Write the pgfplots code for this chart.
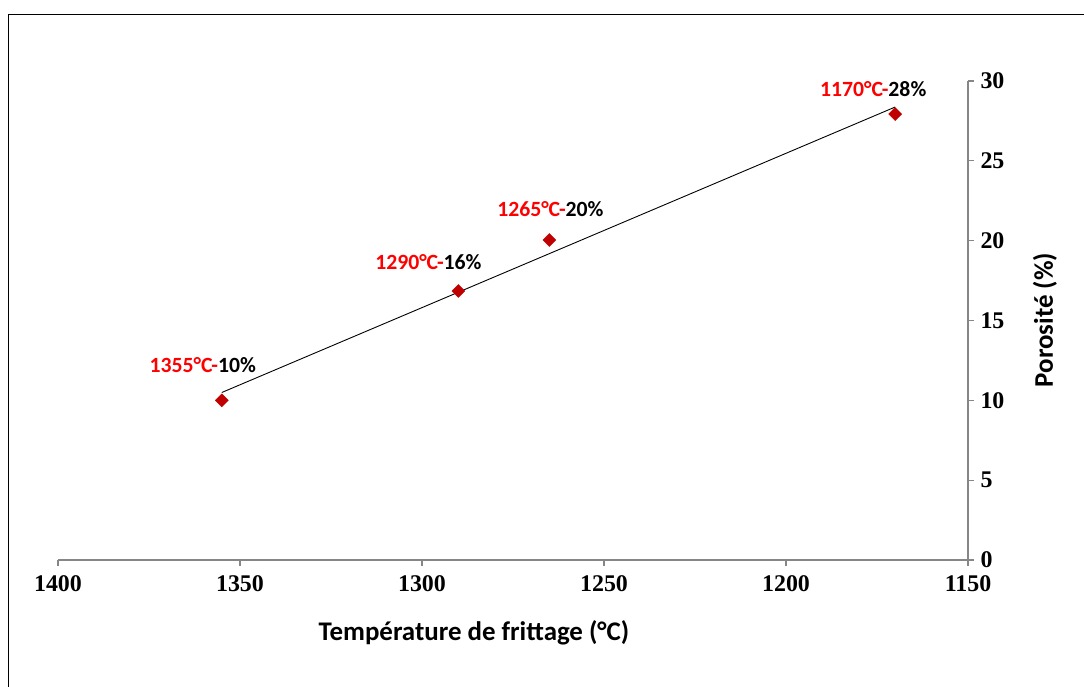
\documentclass[border=0pt]{standalone}
\usepackage{pgfplots}
\pgfplotsset{compat=1.18}
\usepackage{fontspec}
\setmainfont{Liberation Serif}[BoldFont={Liberation Serif Bold}]
\newfontfamily\timesbold{Liberation Serif Bold}
\newfontfamily\calibri{Carlito}
\definecolor{mk}{HTML}{C00000}
\definecolor{axgray}{HTML}{868686}
\begin{document}
\begin{tikzpicture}[x=1bp,y=1bp]
\useasboundingbox (0,0) rectangle (1084,687);
\fill[white] (0,0) rectangle (1084,687);
\draw[line width=1bp] (8.5,-20) -- (8.5,672.5) -- (1100,672.5);
\begin{axis}[
  at={(58bp,127bp)}, anchor=south west,
  scale only axis, width=910bp, height=479bp,
  x dir=reverse,
  xmin=1150, xmax=1400, ymin=0, ymax=30,
  axis x line=bottom, axis y line=right,
  axis line style={draw=axgray, line width=1.2bp, -},
  xtick={1150,1200,...,1400}, ytick={0,5,...,30},
  tick align=outside, major tick length=6bp,
  every tick/.style={draw=axgray, line width=1.2bp},
  /pgf/number format/set thousands separator={},
  /pgf/number format/assume math mode=true,
  ticklabel style={font=\timesbold\fontsize{24}{24}\selectfont},
  xticklabel style={yshift=-6bp},
  yticklabel style={xshift=3bp},
  clip=false,
]
\addplot[black, line width=0.9bp] coordinates {(1355,10.49) (1170,28.37)};
\addplot[only marks, mark=square*, mark size=4.6bp, mark options={rotate=45, fill=mk, draw=mk}]
  coordinates {(1355,10) (1290,16.85) (1265,20.04) (1170,27.93)};
\begin{scope}[every node/.style={font=\calibri\bfseries\fontsize{21.8}{21.8}\selectfont}]
\node at (axis cs:1355,10) [xshift=-19bp, yshift=35bp] {\textcolor{red}{1355°C-}10\%};
\node at (axis cs:1290,16.85) [xshift=-30bp, yshift=29bp] {\textcolor{red}{1290°C-}16\%};
\node at (axis cs:1265,20.04) [xshift=1bp, yshift=31bp] {\textcolor{red}{1265°C-}20\%};
\node at (axis cs:1170,27.93) [xshift=-22bp, yshift=25bp] {\textcolor{red}{1170°C-}28\%};
\end{scope}
\end{axis}
\node[font=\calibri\bfseries\fontsize{27}{27}\selectfont] at (474,54) {Température de frittage (°C)};
\node[font=\calibri\bfseries\fontsize{27}{27}\selectfont, rotate=90] at (1045,367) {Porosité (\%)};
\end{tikzpicture}
\end{document}
